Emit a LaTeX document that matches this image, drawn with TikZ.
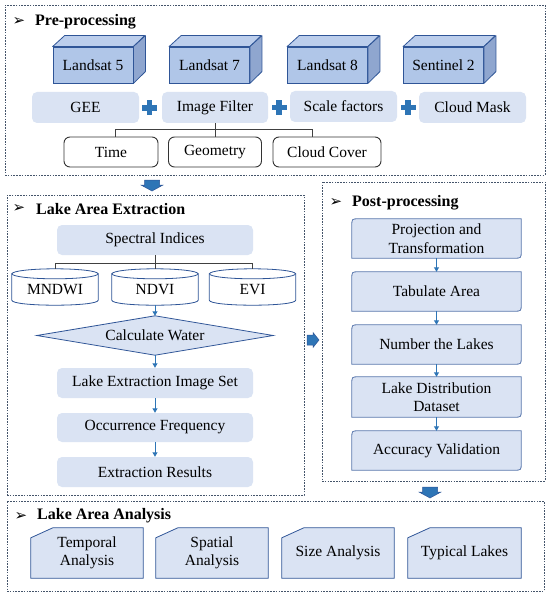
\documentclass[tikz,border=0pt]{standalone}
\usepackage{fontspec}
\setmainfont{Liberation Serif}
\newfontfamily\dejavu{DejaVu Sans}
\usetikzlibrary{arrows.meta,backgrounds,calc}
\definecolor{lightfill}{HTML}{DAE3F3}
\definecolor{cubefront}{HTML}{B0C6E8}
\definecolor{cubetop}{HTML}{BCCEEC}
\definecolor{cubeside}{HTML}{8FA6CF}
\definecolor{darkblue}{HTML}{2F5597}
\definecolor{arrowblue}{HTML}{2E75B6}
\definecolor{framecol}{HTML}{44546A}
\tikzset{
  frame/.style={draw=framecol, line width=0.9pt, dash pattern=on 1.6pt off 1.2pt, inner sep=0},
  ttl/.style={anchor=west, inner sep=0, font=\rmfamily\fontsize{16}{18}\selectfont\bfseries},
  ttlmark/.style={inner sep=0, font=\dejavu\fontsize{15}{16}\selectfont},
  cube/.style={draw=darkblue, fill=cubefront, line width=0.8pt, minimum width=80, minimum height=36, inner sep=0},
  cubetopface/.style={draw=darkblue, fill=cubetop, line width=0.8pt, line join=round},
  cubesideface/.style={draw=darkblue, fill=cubeside, line width=0.8pt, line join=round},
  light/.style={fill=lightfill, rounded corners=5pt, minimum width=107, minimum height=31, inner sep=0},
  wbox/.style={draw=black!80, line width=0.9pt, rounded corners=6pt, minimum height=30, inner sep=0},
  tree/.style={draw=black!75, line width=0.8pt},
  flow/.style={draw=arrowblue, line width=0.9pt, -{Triangle[width=5pt,length=4.5pt]}},
  postbox/.style={minimum width=169, minimum height=39, inner sep=0, align=center},
  postshape/.style={draw=darkblue!80, fill=lightfill, line width=0.8pt},
  snipbox/.style={minimum height=50, inner sep=0, align=center},
  snipshape/.style={draw=darkblue, fill=lightfill, line width=0.8pt},
  cylbox/.style={minimum width=86, minimum height=31, inner sep=0},
  cylshape/.style={draw=darkblue, fill=white, line width=0.8pt},
  bigarrow/.style={fill=arrowblue, draw=darkblue, line width=0.5pt, line join=miter},
  plussign/.pic={\fill[arrowblue] (-2.6,-7.5) rectangle (2.6,7.5); \fill[arrowblue] (-7.5,-2.6) rectangle (7.5,2.6);},
  downarr/.pic={\draw[bigarrow] (-7.5,0) -- (7.5,0) -- (7.5,5) -- (11,5) -- (0,11) -- (-11,5) -- (-7.5,5) -- cycle;},
  rightarr/.pic={\draw[bigarrow] (0,-5) -- (6,-5) -- (6,-7.5) -- (12,0) -- (6,7.5) -- (6,5) -- (0,5) -- cycle;}
}
\begin{document}
\begin{tikzpicture}[x=1pt,y=-1pt,font=\rmfamily\fontsize{15.5}{18.5}\selectfont]
\useasboundingbox (0,0) rectangle (550,596);

% ---------- frames ----------
\node[frame, minimum width=540, minimum height=170] (pre) at (275,90) {};
\node[frame, minimum width=297, minimum height=300] (ext) at (155.5,345) {};
\node[frame, minimum width=223, minimum height=299] (post) at (433.5,331.5) {};
\node[frame, minimum width=537, minimum height=90] (ana) at (275.5,546) {};

% ---------- titles ----------
\node[ttlmark] (m1) at (19,22) {➢};
\node[ttl] (t1) at (35,22) {Pre-processing};
\node[ttlmark] (m2) at (19,209) {➢};
\node[ttl] (t2) at (36,209) {Lake Area Extraction};
\node[ttlmark] (m3) at (336,203) {➢};
\node[ttl] (t3) at (352,203) {Post-processing};
\node[ttlmark] (m4) at (21,516) {➢};
\node[ttl] (t4) at (37,516) {Lake Area Analysis};

% ---------- cubes ----------
\foreach \n/\x/\t in {l5/93/Landsat 5, l7/209.5/Landsat 7, l8/327.5/Landsat 8, s2/443.5/Sentinel 2}{
  \node[cube] (\n) at (\x,65) {\t};
  \draw[cubetopface] (\n.north west) -- ++(12,-11) -- ++(80,0) -- (\n.north east) -- cycle;
  \draw[cubesideface] (\n.north east) -- ++(12,-11) -- ++(0,36) -- (\n.south east) -- cycle;
}

% ---------- light row ----------
\node[light] (gee) at (85.5,107.5) {GEE};
\node[light, minimum width=106] (filter) at (215,107.5) {Image Filter};
\node[light] (scale) at (343.5,106.5) {Scale factors};
\node[light] (cmask) at (472.5,107.5) {Cloud Mask};
\pic at (149.5,108) {plussign};
\pic at (279,107.5) {plussign};
\pic at (408,107.5) {plussign};

% ---------- filter tree ----------
\node[wbox, minimum width=94] (time) at (111,152) {Time};
\node[wbox, minimum width=93] (geo) at (215,152) {Geometry};
\node[wbox, minimum width=108] (cc) at (327,152) {Cloud Cover};
\coordinate (fj) at (215,129);
\draw[tree] (filter.south) -- (fj);
\draw[tree] (fj) -| ([xshift=4pt]time.north);
\draw[tree] (fj) -| ([xshift=-15pt]cc.north);
\draw[tree] (fj) -- (geo.north);

% ---------- big arrows ----------
\pic at (152,180) {downarr};
\pic at (307,340) {rightarr};
\pic at (430,487) {downarr};

% ---------- lake area extraction ----------
\node[light, minimum width=196, minimum height=30] (spec) at (155,240) {Spectral Indices};
\node[cylbox] (mndwi) at (55,289.5) {MNDWI};
\node[cylbox] (ndvi) at (155,289.5) {NDVI};
\node[cylbox] (evi) at (252.5,289.5) {EVI};
\begin{scope}[on background layer]
\foreach \n in {mndwi,ndvi,evi}{
  \draw[cylshape] (\n.north west) -- ([yshift=5pt]\n.south west)
     .. controls ([yshift=-1.67pt]\n.south west) and ([yshift=-1.67pt]\n.south east) .. ([yshift=5pt]\n.south east)
     -- (\n.north east) -- cycle;
  \draw[cylshape] (\n.north) ellipse [x radius=43pt, y radius=5pt];
}
\end{scope}
\coordinate (sj) at (155,263);
\draw[tree] (spec.south) -- (sj);
\draw[tree] (sj) -| ([yshift=5pt]mndwi.north);
\draw[tree] (sj) -| ([yshift=5pt]evi.north);
\draw[tree] (sj) -- ([yshift=5pt]ndvi.north);

\node[inner sep=0, minimum width=236, minimum height=39] (calc) at (155,335.5) {Calculate Water};
\begin{scope}[on background layer]
\draw[draw=darkblue, fill=lightfill, line width=0.8pt] (calc.west) -- (calc.north) -- (calc.east) -- (calc.south) -- cycle;
\end{scope}
\node[light, minimum width=196, minimum height=30] (leis) at (155,383) {Lake Extraction Image Set};
\node[light, minimum width=196, minimum height=29] (occ) at (155,427.5) {Occurrence Frequency};
\node[light, minimum width=196, minimum height=30] (res) at (155,472) {Extraction Results};
\draw[flow] (ndvi.south) -- (calc.north);
\draw[flow] (calc.south) -- (leis.north);
\draw[flow] (leis.south) -- (occ.north);
\draw[flow] (occ.south) -- (res.north);

% ---------- post-processing ----------
\node[postbox] (proj) at (436.5,238.5) {Projection and\\Transformation};
\node[postbox] (tab) at (436.5,291.5) {Tabulate Area};
\node[postbox] (num) at (436.5,344.5) {Number the Lakes};
\node[postbox, minimum height=40] (ldd) at (436.5,397) {Lake Distribution\\Dataset};
\node[postbox] (acc) at (436.5,450.5) {Accuracy Validation};
\begin{scope}[on background layer]
\foreach \n in {proj,tab,num,ldd,acc}{
  \draw[postshape] ([yshift=-7pt]\n.north west) .. controls (\n.north west) .. ([xshift=7pt]\n.north west)
     -- (\n.north east) -- ([yshift=7pt]\n.south east) .. controls (\n.south east) .. ([xshift=-7pt]\n.south east)
     -- (\n.south west) -- cycle;
}
\end{scope}
\draw[flow] (proj.south) -- (tab.north);
\draw[flow] (tab.south) -- (num.north);
\draw[flow] (num.south) -- (ldd.north);
\draw[flow] (ldd.south) -- (acc.north);

% ---------- lake area analysis ----------
\node[snipbox, minimum width=112] (temp) at (87,553) {Temporal\\Analysis};
\node[snipbox, minimum width=112] (spat) at (212,553) {Spatial\\Analysis};
\node[snipbox, minimum width=112] (size) at (338,553) {Size Analysis};
\node[snipbox, minimum width=113] (typ) at (464.5,553) {Typical Lakes};
\begin{scope}[on background layer]
\foreach \n in {temp,spat,size,typ}{
  \draw[snipshape] ([yshift=-10pt]\n.north west) -- ([xshift=22pt]\n.north west) -- (\n.north east)
     -- (\n.south east) -- (\n.south west) -- cycle;
}
\end{scope}
\end{tikzpicture}
\end{document}
